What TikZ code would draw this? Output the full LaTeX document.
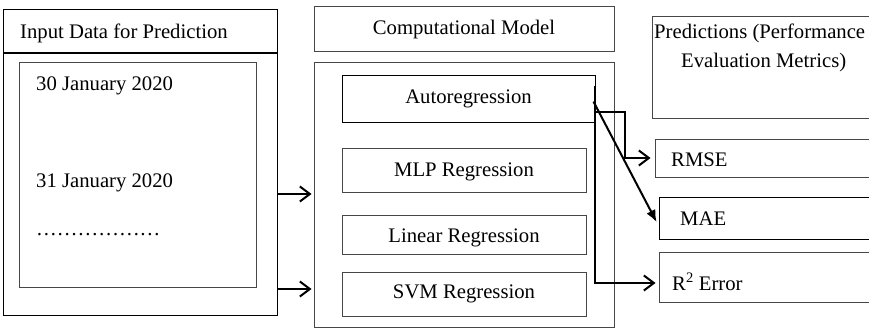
\documentclass[tikz,border=0pt]{standalone}
\usepackage{fontspec}
\setmainfont{Liberation Serif}
\usetikzlibrary{arrows.meta,calc}
\begin{document}
\begin{tikzpicture}[x=1pt,y=-1pt,
  box/.style={draw=black,line width=0.9pt,inner sep=0pt},
  softbox/.style={draw=black!72,line width=1pt,inner sep=0pt},
  txt/.style={inner sep=0pt,font=\fontsize{20.7}{24}\selectfont},
  link/.style={line width=2pt,draw=black},
  openarrow/.style={link,-{Straight Barb[length=10pt,width=15pt,line width=2pt]}},
  fillarrow/.style={link,-{Latex[length=12pt,width=10pt]}}
]
\path[use as bounding box,clip] (0,0) rectangle (869,329);

% corner-defined rectangles
\newcommand{\boxat}[6]{%
  \node[#1,minimum width={#4-#2},minimum height={#5-#3}] (#6) at ({(#2+#4)/2},{(#3+#5)/2}) {};}

% input column
\boxat{box}{3}{9}{277}{315}{input}
\draw[line width=2pt] (3,53) -- (277,53);
\boxat{softbox}{19}{62}{256}{287}{inner}
\node[txt,anchor=base west] (inlabel) at (20,38) {Input Data for Prediction};
\node[txt,anchor=base west] (d30) at (36,90) {30 January 2020};
\node[txt,anchor=base west] (d31) at (36,187) {31 January 2020};
\node[txt,anchor=base west] (dots) at (36,235) {………………};

% model column
\boxat{softbox}{314}{7}{614}{52}{cmhead}
\node[txt,anchor=base] (cmlabel) at (464,35) {Computational Model};
\boxat{softbox}{314}{62}{614}{327}{model}
\boxat{box}{342}{75}{595}{122}{auto}
\boxat{softbox}{342}{148}{586}{192}{mlp}
\boxat{softbox}{342}{215}{586}{254}{lin}
\boxat{softbox}{342}{272}{586}{316}{svm}
\node[txt,anchor=base] (autot) at (468.5,103) {Autoregression};
\node[txt,anchor=base] (mlpt) at (464,176) {MLP Regression};
\node[txt,anchor=base] (lint) at (464,242) {Linear Regression};
\node[txt,anchor=base] (svmt) at (464,298) {SVM Regression};

% metrics column
\boxat{softbox}{652}{17}{900}{118}{pred}
\node[txt,anchor=base west] (predt1) at (654,38) {Predictions (Performance};
\node[txt,anchor=base west] (predt2) at (681,67) {Evaluation Metrics)};
\boxat{softbox}{655}{139}{900}{177}{rmse}
\boxat{box}{659}{197}{900}{239}{mae}
\boxat{softbox}{659}{252}{900}{302}{rtwo}
\node[txt,anchor=base west] (rmset) at (671,166) {RMSE};
\node[txt,anchor=base west] (maet) at (680,225) {MAE};
\node[txt,anchor=base west] (rtwot) at (672,290) {R\textsuperscript{2} Error};

% input to model
\draw[openarrow] (input.east |- 0,194) -- ($(model.west |- 0,194)+(-2,0)$);
\draw[openarrow] (input.east |- 0,289) -- ($(model.west |- 0,289)+(-2,0)$);

% model to metrics
\coordinate (tapA) at ($(auto.north east)+(0,11)$);
\coordinate (tapB) at ($(auto.north east)+(0,37)$);
\coordinate (tapC) at ($(auto.north east)+(-2,27)$);
\draw[openarrow] (tapA) -- (tapA |- 0,283) -- ($(rtwo.west |- 0,283)+(-3,0)$);
\draw[openarrow] (tapB) -- ++(30,0) |- ($(rmse.west |- 0,158)+(-4,0)$);
\draw[fillarrow] (tapC) -- ($(mae.west |- 0,222)+(-2,0)$);
\end{tikzpicture}
\end{document}
